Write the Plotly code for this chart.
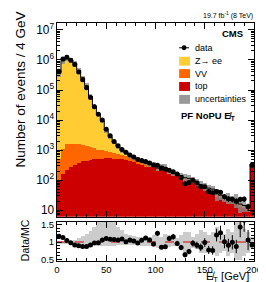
import numpy as np
import plotly.graph_objects as go

# ---------------- data (4 GeV bins, 0-200 GeV) ----------------
bin_low = list(range(0, 200, 4))
bin_width = 4

data = [420000, 1070000, 1230000, 980000, 710000, 400000, 220000, 120000, 56000, 28000,
        15500, 10000, 5000, 3000, 1950, 1400, 1050, 850, 690, 590,
        490, 450, 415, 370, 320, 315, 250, 230, 215, 190,
        160, 120, 76, 83, 100, 80, 60, 60, 42, 38,
        42, 40, 28, 24, 23, 20, 23, 23.5, 13, 316]

top = [100, 160, 220, 280, 330, 380, 420, 450, 480, 500,
       510, 525, 535, 535, 525, 510, 490, 460, 430, 400,
       355, 310, 284, 277, 280, 202, 251, 231, 164, 139,
       144, 124, 104, 100, 92, 77, 61, 52, 47, 44,
       29, 26, 23, 22, 19.7, 19.8, 13.3, 11.9, 10.1, 330]

vv = [400, 940, 1360, 1380, 1330, 1200, 1090, 960, 780, 650,
      540, 455, 375, 315, 270, 230, 200, 170, 145, 125,
      100, 85, 72, 60, 50, 42, 36, 30, 26, 22,
      19, 16, 14, 12, 10, 9, 8, 7, 6, 5,
      4.5, 4, 3.5, 3, 2.7, 2.4, 2.1, 1.9, 1.7, 12]

zee = [358500, 945800, 1181100, 998300, 778600, 447900, 251400, 136500, 60280, 27720,
       14770, 8450, 3635, 1928, 1027, 581, 273, 212, 76, 48,
       50, 34, 15, 12, 10, 8, 7, 6, 5, 4,
       4, 3, 3, 3, 2, 2, 2, 2, 1.5, 1.5,
       1.5, 1.5, 1.2, 1.4, 0.8, 0.8, 0.6, 0.6, 0.5, 5]

# relative uncertainty drawn in the main panel (symmetric)
unc_main = [0.25, 0.25, 0.2, 0.2, 0.2, 0.2, 0.2, 0.2, 0.2, 0.2,
            0.15, 0.15, 0.15, 0.15, 0.15, 0.15, 0.15, 0.15, 0.15, 0.15,
            0.15, 0.15, 0.15, 0.2, 0.2, 0.2, 0.2, 0.25, 0.2, 0.15,
            0.15, 0.2, 0.3, 0.3, 0.2, 0.25, 0.3, 0.3, 0.25, 0.3,
            0.4, 0.3, 0.3, 0.4, 0.3, 0.5, 0.5, 0.4, 0.3, 0.15]

# relative uncertainty band in the ratio panel (asymmetric)
unc_up = [0.04, 0.04, 0.04, 0.05, 0.08, 0.12, 0.18, 0.25, 0.33, 0.45,
          0.6, 0.65, 0.65, 0.65, 0.6, 0.45, 0.35, 0.25, 0.2, 0.18,
          0.15, 0.15, 0.12, 0.15, 0.2, 0.2, 0.15, 0.25, 0.2, 0.1,
          0.12, 0.2, 0.3, 0.3, 0.15, 0.25, 0.35, 0.3, 0.2, 0.3,
          0.45, 0.3, 0.25, 0.4, 0.3, 0.6, 0.6, 0.4, 0.3, 0.15]
unc_dn = [0.04, 0.04, 0.04, 0.04, 0.04, 0.05, 0.06, 0.07, 0.08, 0.09,
          0.1, 0.1, 0.1, 0.1, 0.1, 0.08, 0.07, 0.07, 0.07, 0.08,
          0.08, 0.1, 0.1, 0.1, 0.12, 0.15, 0.15, 0.15, 0.12, 0.1,
          0.1, 0.15, 0.3, 0.3, 0.15, 0.2, 0.3, 0.3, 0.25, 0.3,
          0.4, 0.3, 0.25, 0.4, 0.3, 0.5, 0.5, 0.4, 0.3, 0.15]

x_ticks = [0, 50, 100, 150, 200]
ratio_ticks = [0.5, 1, 1.5]
ratio_labels = ["0.5", "1", "1.5"]

# ---------------- derived ----------------
x = np.array(bin_low) + bin_width / 2
d = np.array(data, float)
t = np.array(top, float)
v = np.array(vv, float)
z = np.array(zee, float)
mc = t + v + z
um = np.array(unc_main)
up = np.array(unc_up)
dn = np.array(unc_dn)
d_err = np.sqrt(d)
ratio = d / mc
ratio_err = d_err / mc
edges = list(bin_low) + [bin_low[-1] + bin_width]

FONT = "Liberation Sans, Arial, Helvetica, sans-serif"
C_ZEE = "#FFCC33"
C_VV = "#FF6600"
C_TOP = "#CC0000"
C_UNC = "rgba(140,140,140,0.8)"
C_UNC_R = "rgba(170,170,170,0.6)"

fig = go.Figure()

fig.add_trace(go.Bar(x=x, y=t, width=bin_width, marker=dict(color=C_TOP, line=dict(width=0)),
                     xaxis="x", yaxis="y", showlegend=False, name="top"))
fig.add_trace(go.Bar(x=x, y=v, base=t, width=bin_width, marker=dict(color=C_VV, line=dict(width=0)),
                     xaxis="x", yaxis="y", showlegend=False, name="VV"))
fig.add_trace(go.Bar(x=x, y=z, base=t + v, width=bin_width, marker=dict(color=C_ZEE, line=dict(width=0)),
                     xaxis="x", yaxis="y", showlegend=False, name="Z→ee"))
fig.add_trace(go.Bar(x=x, y=mc * 2 * um, base=mc * (1 - um), width=bin_width,
                     marker=dict(color=C_UNC, line=dict(width=0)),
                     xaxis="x", yaxis="y", showlegend=False, name="uncertainties"))
fig.add_trace(go.Scatter(x=edges, y=list(mc) + [mc[-1]], mode="lines", line=dict(color="black", width=1, shape="hv"),
                         xaxis="x", yaxis="y", showlegend=False, hoverinfo="skip"))
fig.add_trace(go.Scatter(x=x, y=d, mode="markers", marker=dict(color="black", size=5),
                         error_y=dict(type="data", array=d_err, color="black", thickness=1, width=0),
                         xaxis="x", yaxis="y", showlegend=False, name="data"))

fig.add_trace(go.Bar(x=x, y=up + dn, base=1 - dn, width=bin_width,
                     marker=dict(color=C_UNC_R, line=dict(width=0)),
                     xaxis="x2", yaxis="y2", showlegend=False))
fig.add_trace(go.Scatter(x=[edges[0], edges[-1]], y=[1, 1], mode="lines",
                         line=dict(color="#D04848", width=1.5, dash="dash"),
                         xaxis="x2", yaxis="y2", showlegend=False, hoverinfo="skip"))
fig.add_trace(go.Scatter(x=x, y=ratio, mode="markers", marker=dict(color="black", size=5),
                         error_y=dict(type="data", array=ratio_err, color="black", thickness=1, width=0),
                         xaxis="x2", yaxis="y2", showlegend=False))

H0, W0 = 240.0, 200.0
def px(xp):
    return (xp - 49) / W0
def py(yp):
    return (253 - yp) / H0

axis_common = dict(showline=True, linecolor="black", linewidth=1, mirror="allticks",
                   ticks="inside", tickcolor="black", showgrid=False, zeroline=False,
                   tickfont=dict(family=FONT, size=9.5, color="black"))

fig.update_layout(
    width=266, height=282, autosize=False,
    margin=dict(l=49, r=17, t=13, b=29, pad=0),
    paper_bgcolor="white", plot_bgcolor="white",
    barmode="overlay", bargap=0,
    font=dict(family=FONT, color="black"),
    xaxis=dict(domain=[0, 1], range=[0, 200], anchor="y", showticklabels=False,
               tickvals=x_ticks, ticklen=6, minor=dict(ticks="inside", dtick=10, ticklen=3, tickcolor="black"),
               **axis_common),
    yaxis=dict(domain=[py(208.5), 1], type="log", range=[0.779, 7.231], anchor="x",
               dtick=1, exponentformat="power", ticklen=6,
               minor=dict(ticks="inside", ticklen=3, tickcolor="black"),
               **axis_common),
    xaxis2=dict(domain=[0, 1], range=[0, 200], anchor="y2", tickvals=x_ticks,
                ticklen=6, minor=dict(ticks="inside", dtick=10, ticklen=3, tickcolor="black"),
                **axis_common),
    yaxis2=dict(domain=[0, py(213.3)], range=[0.45, 1.59], anchor="x2",
                tickvals=ratio_ticks, ticktext=ratio_labels, ticklen=5,
                minor=dict(ticks="inside", dtick=0.1, ticklen=3, tickcolor="black"),
                **axis_common),
)

ann = []
def A(text, xp, yp, size, xanchor="left", yanchor="middle", angle=0, **kw):
    ann.append(dict(text=text, x=px(xp), y=py(yp), xref="paper", yref="paper",
                    xanchor=xanchor, yanchor=yanchor, showarrow=False, textangle=angle,
                    borderpad=0, font=dict(family=FONT, size=size, color="black"), **kw))

A("19.7 fb<sup>-1</sup> (8 TeV)", 249, 5, 7, xanchor="right")
A("<b>CMS</b>", 239, 23.5, 9.5, xanchor="right")
A("data", 188, 38, 9)
A("Z\u2192 ee", 188, 51.5, 9)
A("VV", 188, 64, 9)
A("top", 188, 77, 9)
A("uncertainties", 188, 90, 9)
A("<b>PF NoPU E\u0338<sub>T</sub></b>", 174, 107, 9.5)
A("E\u0338<sub>T</sub> [GeV]", 245, 277, 11, xanchor="right", yanchor="bottom")
A("Number of events / 4 GeV", 11.5, 80, 13.5, xanchor="center", angle=-90)
A("Data/MC", 16.5, 232, 10.5, xanchor="center", angle=-90)
fig.update_layout(annotations=ann)

shapes = []
def rect(x0, y0, x1, y1, color):
    shapes.append(dict(type="rect", xref="paper", yref="paper", x0=px(x0), x1=px(x1),
                       y0=py(y1), y1=py(y0), fillcolor=color, line=dict(width=0)))
shapes.append(dict(type="line", xref="paper", yref="paper", x0=px(173), x1=px(183), y0=py(38), y1=py(38),
                   line=dict(color="black", width=1)))
shapes.append(dict(type="circle", xref="paper", yref="paper", x0=px(175.5), x1=px(180.5), y0=py(40.5), y1=py(35.5),
                   fillcolor="black", line=dict(width=0)))
rect(173, 47, 184, 56, C_ZEE)
rect(173, 59.5, 184, 68.5, C_VV)
rect(173, 72.5, 184, 81.5, C_TOP)
rect(173, 85.5, 184, 94.5, "#999999")
fig.update_layout(shapes=shapes)

fig.write_html("out.html")
